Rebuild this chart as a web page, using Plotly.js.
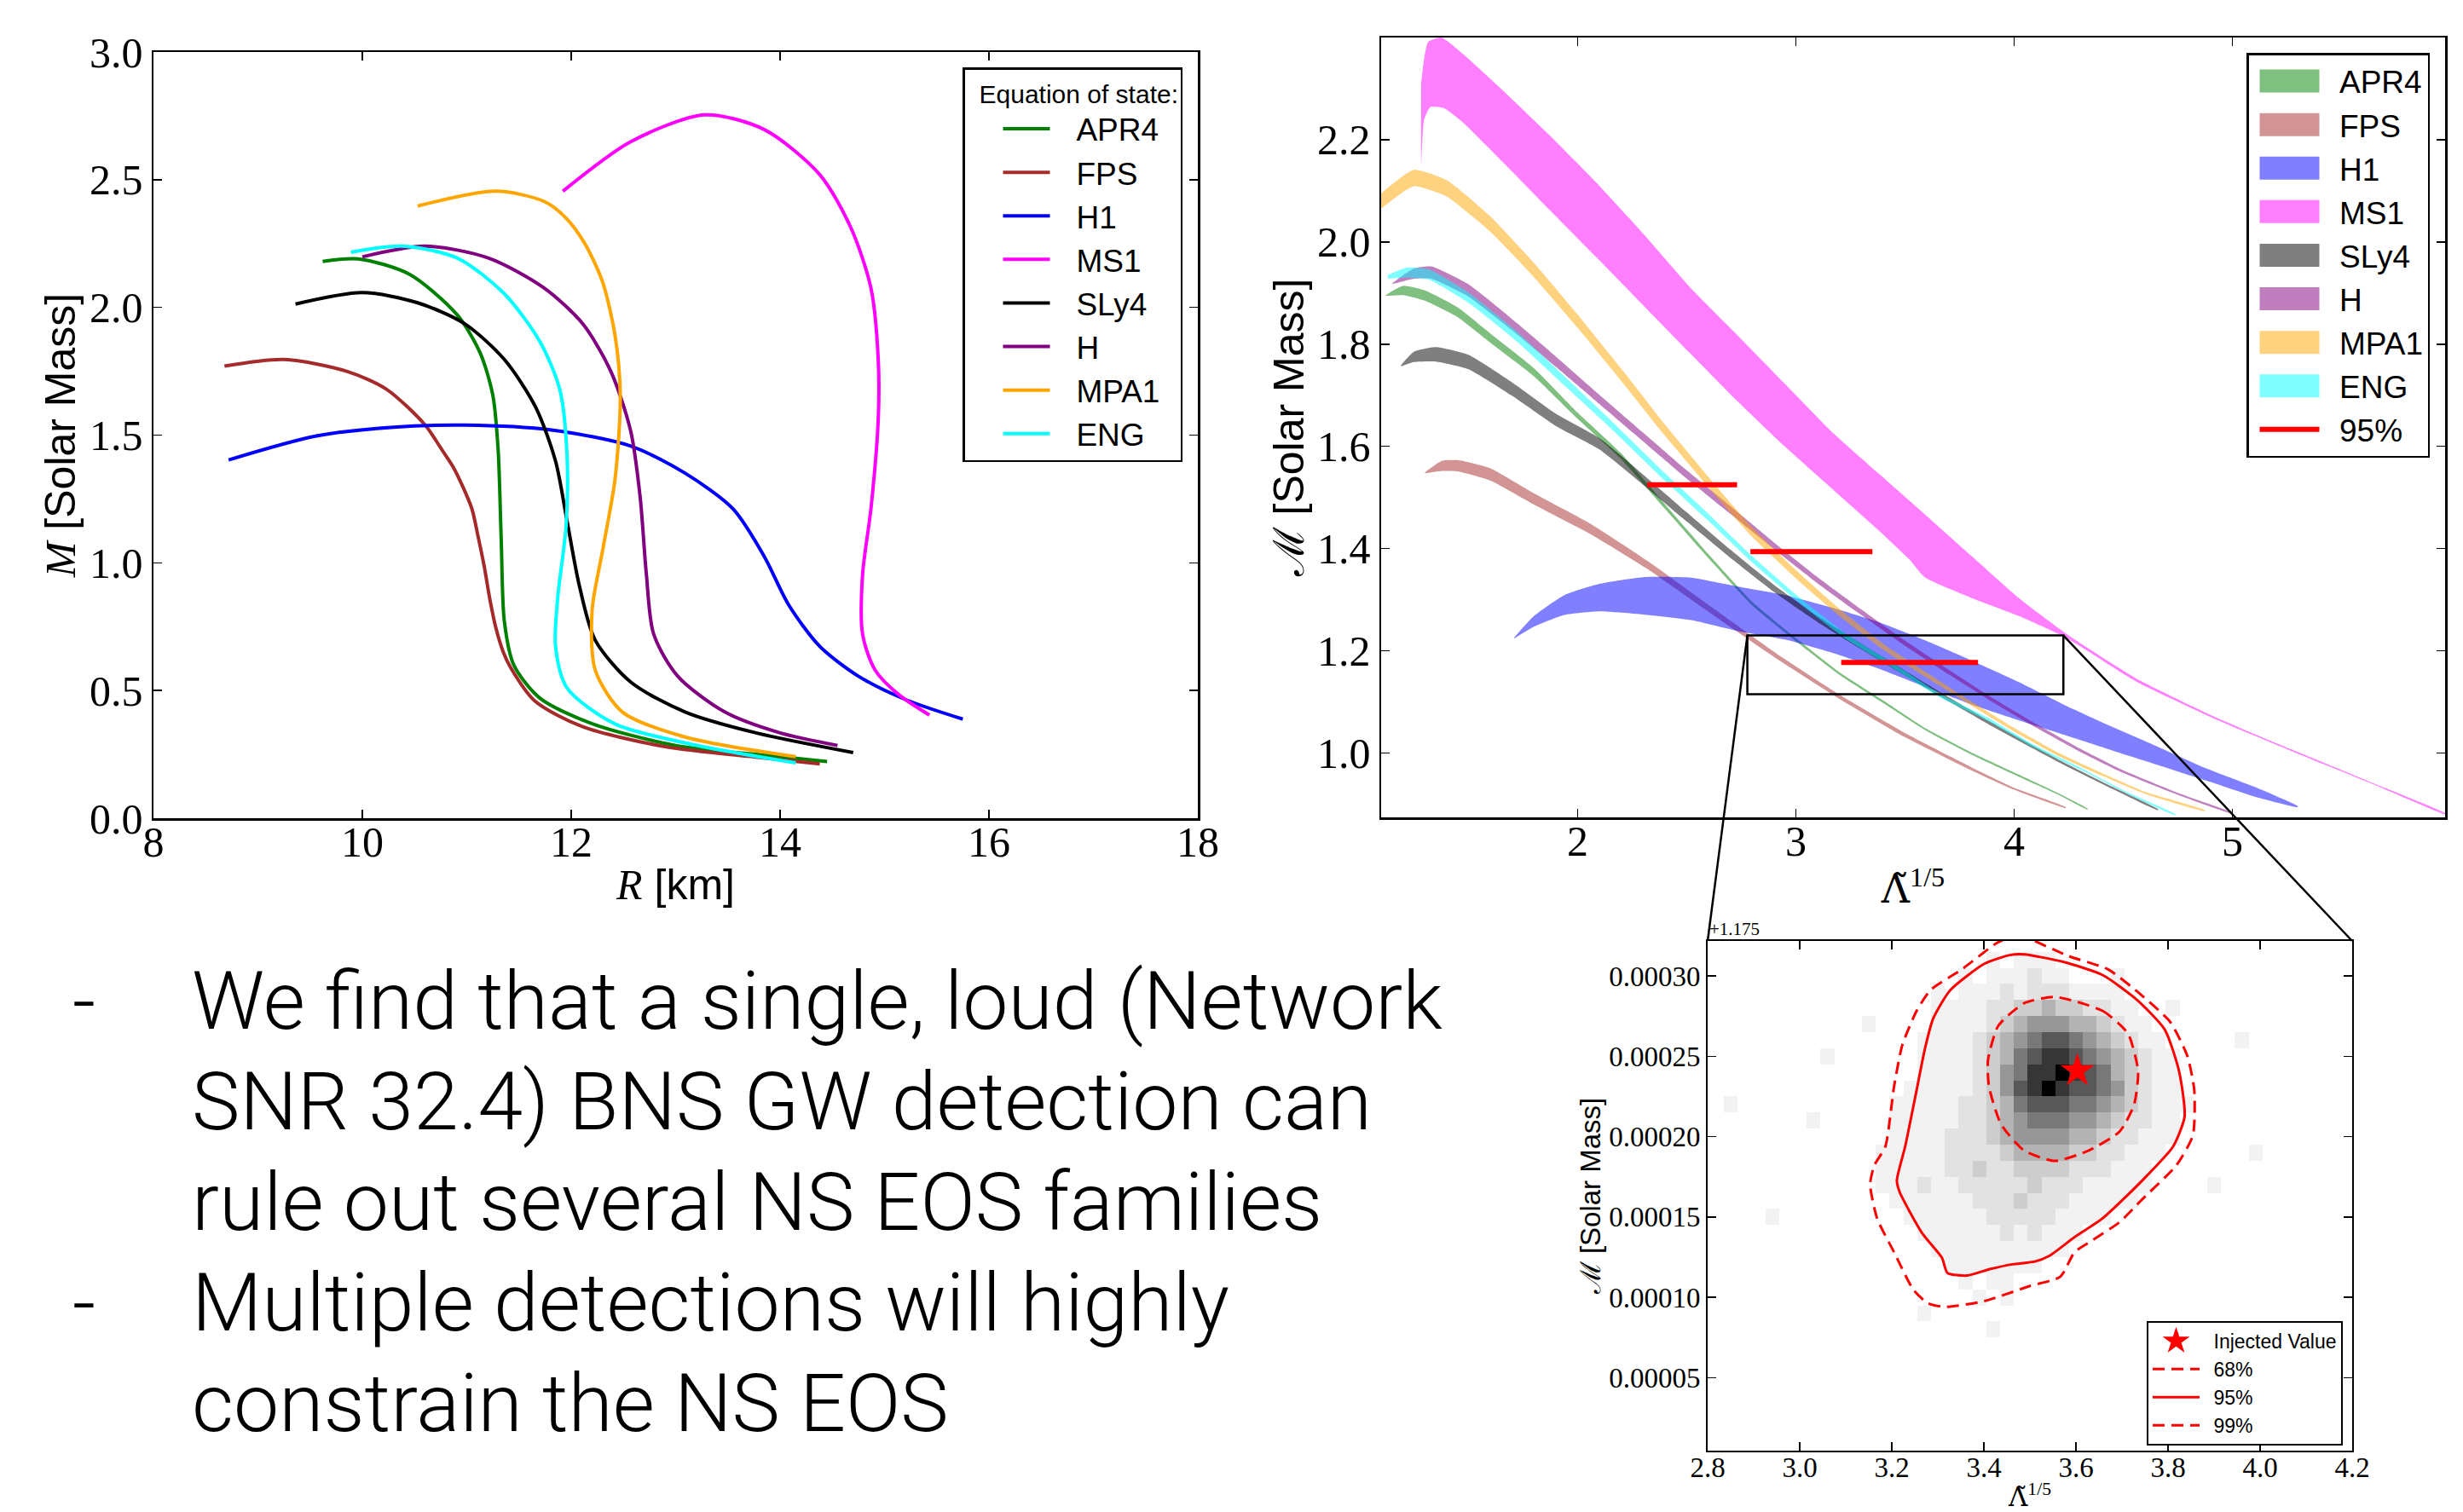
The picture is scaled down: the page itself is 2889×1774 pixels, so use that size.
<!DOCTYPE html>
<html><head><meta charset="utf-8">
<script src="https://cdn.plot.ly/plotly-3.0.1.min.js"></script>
<style>html,body{margin:0;padding:0;background:#fff;}#chart{width:2889px;height:1774px;}</style>
</head><body><div id="chart"></div>
<script>
// ---------------- Left panel: mass-radius curves ----------------
const eosNames = ['APR4','FPS','H1','MS1','SLy4','H','MPA1','ENG'];
const eosLineColors = ['#008000','#a52a2a','#0000ff','#ff00ff','#000000','#800080','#ffa500','#00ffff'];
const eosFillColors = ['rgba(0,128,0,0.5)','rgba(165,42,42,0.5)','rgba(0,0,255,0.5)','rgba(255,0,255,0.5)','rgba(0,0,0,0.5)','rgba(128,0,128,0.5)','rgba(255,165,0,0.5)','rgba(0,255,255,0.5)'];

const apr4R = [9.62, 9.96, 10.45, 10.91, 11.13, 11.25, 11.30, 11.33, 11.36, 11.45, 11.70, 12.20, 13.00, 13.90, 14.45];
const apr4M = [2.180, 2.190, 2.130, 1.970, 1.820, 1.655, 1.445, 1.090, 0.770, 0.600, 0.470, 0.370, 0.285, 0.245, 0.222];
const fpsR = [8.68, 9.25, 9.85, 10.23, 10.60, 10.75, 10.87, 10.96, 11.05, 11.11, 11.17, 11.22, 11.28, 11.35, 11.42, 11.65, 12.10, 12.90, 13.80, 14.38];
const fpsM = [1.770, 1.796, 1.750, 1.680, 1.540, 1.450, 1.375, 1.300, 1.210, 1.100, 0.980, 0.860, 0.743, 0.650, 0.590, 0.460, 0.360, 0.280, 0.238, 0.213];
const h1R = [8.72, 9.55, 10.30, 10.98, 11.81, 12.57, 13.09, 13.55, 13.85, 14.08, 14.38, 14.75, 15.21, 15.75];
const h1M = [1.403, 1.496, 1.531, 1.539, 1.520, 1.457, 1.351, 1.211, 1.024, 0.837, 0.673, 0.556, 0.463, 0.388];
const ms1R = [11.92, 12.57, 13.28, 13.85, 14.38, 14.68, 14.87, 14.94, 14.94, 14.87, 14.79, 14.79, 14.91, 15.13, 15.43];
const ms1M = [2.455, 2.649, 2.754, 2.696, 2.520, 2.310, 2.076, 1.796, 1.562, 1.211, 0.954, 0.720, 0.580, 0.486, 0.404];
const sly4R = [9.36, 10.00, 10.53, 10.98, 11.36, 11.66, 11.85, 11.96, 12.08, 12.23, 12.57, 13.09, 13.77, 14.70];
const sly4M = [2.013, 2.058, 2.018, 1.936, 1.796, 1.609, 1.398, 1.164, 0.907, 0.697, 0.533, 0.416, 0.334, 0.257];
const hR = [10.00, 10.60, 11.21, 11.74, 12.11, 12.38, 12.57, 12.66, 12.72, 12.79, 13.02, 13.47, 14.00, 14.55];
const hM = [2.198, 2.240, 2.193, 2.076, 1.936, 1.749, 1.515, 1.258, 0.954, 0.720, 0.556, 0.416, 0.334, 0.285];
const mpa1R = [10.53, 11.28, 11.74, 11.95, 12.13, 12.30, 12.42, 12.47, 12.42, 12.30, 12.20, 12.23, 12.49, 13.09, 14.15];
const mpa1M = [2.397, 2.455, 2.415, 2.350, 2.250, 2.100, 1.889, 1.655, 1.328, 1.047, 0.814, 0.580, 0.416, 0.318, 0.241];
const engR = [9.89, 10.38, 10.91, 11.36, 11.70, 11.89, 11.96, 11.95, 11.87, 11.85, 11.96, 12.42, 13.17, 14.15];
const engM = [2.216, 2.240, 2.193, 2.053, 1.866, 1.679, 1.422, 1.141, 0.860, 0.673, 0.510, 0.369, 0.288, 0.217];

// ---------------- Right panel: chirp mass vs tidal deformability bands ----------------
const apr4Lam = [1.12, 1.20, 1.30, 1.45, 1.60, 1.80, 2.00, 2.20, 2.40, 2.60, 2.80, 3.00, 3.20, 3.40, 3.60, 3.80, 4.00, 4.20, 4.337];
const apr4Up  = [1.895, 1.914, 1.905, 1.872, 1.821, 1.753, 1.666, 1.586, 1.487, 1.389, 1.296, 1.225, 1.158, 1.103, 1.047, 1.002, 0.962, 0.922, 0.891];
const apr4Lo  = [1.895, 1.896, 1.885, 1.853, 1.803, 1.737, 1.654, 1.575, 1.478, 1.381, 1.289, 1.219, 1.153, 1.098, 1.043, 0.998, 0.958, 0.919, 0.889];

const fpsLam = [1.30, 1.38, 1.45, 1.60, 1.80, 2.065, 2.32, 2.58, 2.90, 3.20, 3.50, 3.80, 4.00, 4.237];
const fpsUp  = [1.548, 1.572, 1.573, 1.557, 1.508, 1.447, 1.376, 1.296, 1.198, 1.114, 1.039, 0.973, 0.932, 0.894];
const fpsLo  = [1.548, 1.552, 1.551, 1.533, 1.486, 1.427, 1.360, 1.282, 1.188, 1.106, 1.031, 0.967, 0.928, 0.892];

const h1Lam = [1.71, 1.80, 1.94, 2.10, 2.30, 2.52, 2.73, 2.95, 3.16, 3.38, 3.59, 3.81, 4.02, 4.24, 4.45, 4.67, 4.88, 5.10, 5.30];
const h1Up  = [1.226, 1.268, 1.309, 1.331, 1.344, 1.343, 1.326, 1.309, 1.285, 1.256, 1.221, 1.180, 1.139, 1.092, 1.051, 1.010, 0.970, 0.934, 0.896];
const h1Lo  = [1.224, 1.247, 1.270, 1.277, 1.271, 1.260, 1.239, 1.222, 1.197, 1.165, 1.130, 1.094, 1.064, 1.034, 1.005, 0.975, 0.946, 0.915, 0.894];

const ms1LamUp = [1.283, 1.315, 1.376, 1.477, 1.656, 1.871, 2.086, 2.301, 2.516, 2.731, 2.946, 3.161, 3.376, 3.591, 3.806, 4.022, 4.237, 4.559, 4.918, 5.276, 5.634, 5.975];
const ms1Up    = [2.309, 2.391, 2.400, 2.367, 2.297, 2.209, 2.116, 2.016, 1.911, 1.818, 1.724, 1.630, 1.548, 1.467, 1.385, 1.303, 1.234, 1.146, 1.071, 1.006, 0.943, 0.882];
const ms1LamLo = [1.283, 1.297, 1.326, 1.387, 1.477, 1.656, 1.871, 2.086, 2.301, 2.516, 2.731, 2.946, 3.161, 3.376, 3.520, 3.591, 3.806, 4.022, 4.237, 4.559, 4.918, 5.276, 5.634, 5.975];
const ms1Lo    = [2.145, 2.239, 2.264, 2.262, 2.233, 2.157, 2.063, 1.970, 1.876, 1.782, 1.689, 1.601, 1.519, 1.437, 1.379, 1.344, 1.303, 1.268, 1.226, 1.140, 1.067, 1.003, 0.941, 0.880];

const sly4Lam = [1.19, 1.25, 1.35, 1.50, 1.70, 1.90, 2.10, 2.30, 2.50, 2.70, 2.90, 3.10, 3.30, 3.60, 3.90, 4.20, 4.45, 4.66];
const sly4Up  = [1.757, 1.785, 1.794, 1.779, 1.725, 1.664, 1.616, 1.545, 1.471, 1.398, 1.329, 1.268, 1.214, 1.135, 1.059, 0.988, 0.934, 0.890];
const sly4Lo  = [1.757, 1.765, 1.766, 1.751, 1.699, 1.640, 1.594, 1.525, 1.453, 1.382, 1.315, 1.256, 1.203, 1.126, 1.052, 0.983, 0.930, 0.888];

const hLam = [1.15, 1.25, 1.33, 1.50, 1.70, 1.90, 2.10, 2.30, 2.50, 2.70, 2.90, 3.10, 3.30, 3.50, 3.70, 3.90, 4.10, 4.30, 4.50, 4.75, 5.00];
const hUp  = [1.918, 1.948, 1.952, 1.917, 1.849, 1.776, 1.701, 1.627, 1.553, 1.483, 1.412, 1.344, 1.281, 1.220, 1.163, 1.108, 1.057, 1.009, 0.966, 0.922, 0.883];
const hLo  = [1.918, 1.928, 1.928, 1.893, 1.827, 1.756, 1.683, 1.610, 1.537, 1.468, 1.399, 1.332, 1.270, 1.210, 1.154, 1.100, 1.050, 1.003, 0.961, 0.918, 0.881];

const mpa1Lam = [1.10, 1.25, 1.40, 1.60, 1.80, 2.00, 2.20, 2.40, 2.60, 2.80, 3.00, 3.20, 3.40, 3.60, 3.80, 4.00, 4.20, 4.40, 4.60, 4.875];
const mpa1Up  = [2.095, 2.141, 2.121, 2.050, 1.959, 1.858, 1.752, 1.643, 1.540, 1.441, 1.358, 1.282, 1.214, 1.157, 1.102, 1.049, 1.001, 0.961, 0.924, 0.888];
const mpa1Lo  = [2.065, 2.109, 2.089, 2.020, 1.931, 1.832, 1.728, 1.621, 1.520, 1.423, 1.342, 1.268, 1.202, 1.147, 1.094, 1.042, 0.995, 0.956, 0.920, 0.886];

const engLam = [1.13, 1.22, 1.32, 1.50, 1.72, 1.94, 2.16, 2.37, 2.59, 2.80, 3.02, 3.23, 3.45, 3.66, 3.88, 4.09, 4.31, 4.52, 4.74];
const engUp  = [1.935, 1.950, 1.946, 1.901, 1.825, 1.737, 1.648, 1.560, 1.472, 1.385, 1.303, 1.233, 1.174, 1.116, 1.069, 1.016, 0.970, 0.923, 0.880];
const engLo  = [1.928, 1.930, 1.926, 1.881, 1.806, 1.719, 1.632, 1.545, 1.458, 1.373, 1.292, 1.223, 1.165, 1.109, 1.063, 1.011, 0.966, 0.920, 0.878];

// 95% chirp-mass intervals
const ci95LamLo = [2.319, 2.792, 3.208];
const ci95LamHi = [2.731, 3.351, 3.835];
const ci95M     = [1.525, 1.394, 1.177];

// zoom box (right panel data coords)
const zoomBoxLam = [2.778, 4.226];
const zoomBoxM   = [1.115, 1.230];

// ---------------- Inset: posterior (chirp mass offset from 1.175) ----------------
const insetOffsetLabel = '+1.175';
const histLam0 = 2.85, histDLam = 0.03, histM0 = 0.00003, histDM = 0.00001; // bin grid
// rows from top (M = 0.00031) down to bottom (M = 0.00003); columns from 2.85 to 3.99; digits = darkness 0..9
const histRows = [
 '00000|00000000000|00010111000|00000000000|00',
 '00000|00000000000|01011121100|01000000000|00',
 '00000|00000000001|01112122211|11000000000|00',
 '00000|00000000001|11122334332|21100100000|00',
 '00000|00000100001|11123455544|32110000000|00',
 '00000|00000000011|11234567765|43211000001|00',
 '00000|00100000011|11234678876|54321100000|00',
 '00000|00000000011|11235688987|64321100000|00',
 '00000|00000000111|11235789877|65321100000|00',
 '10000|00000001111|12234677766|54321110000|00',
 '00000|01000001111|12234566655|43221100000|00',
 '00000|00000001111|22234555544|32211100000|00',
 '00000|00000011111|22223444433|22111000000|10',
 '00000|00000011111|22322333322|21110000000|00',
 '00000|00000011121|12222232221|11110000100|00',
 '00000|00000001111|11222322211|11100000000|00',
 '00010|00000000111|11122222111|10000000000|00',
 '00000|00000000011|11112121110|00000000000|00',
 '00000|00000000001|11111111100|00000000000|00',
 '00000|00000000000|11111110000|00000000000|00',
 '00000|00000000000|01011000000|00000000000|00',
 '00000|00000000000|00101000000|00000000000|00',
 '00000|00000000010|00000000000|00000000000|00',
 '00000|00000000000|00010000000|00000000000|00',
 '00000|00000000000|00000000000|00000000000|00',
 '00000|00000000000|00000000000|00000000000|00',
 '00000|00000000000|00000000000|00000000000|00',
 '00000|00000000000|00000000000|00000000000|00',
 '00000|00000000000|00000000000|00000000000|00'
];
const c68Lam = [3.554, 3.658, 3.713, 3.735, 3.726, 3.695, 3.628, 3.554, 3.487, 3.437, 3.411, 3.409, 3.431, 3.487, 3.554];
const c68M   = [0.0002869, 0.0002782, 0.0002641, 0.0002407, 0.0002196, 0.0002032, 0.0001914, 0.0001849, 0.0001914, 0.0002079, 0.0002313, 0.0002477, 0.0002688, 0.0002829, 0.0002869];
const c95Lam = [3.487, 3.572, 3.658, 3.732, 3.793, 3.824, 3.836, 3.811, 3.744, 3.658, 3.597, 3.542, 3.511, 3.462, 3.413, 3.364, 3.321, 3.309, 3.266, 3.217, 3.211, 3.229, 3.254, 3.272, 3.290, 3.327, 3.401, 3.456, 3.487];
const c95M   = [0.0003134, 0.0003087, 0.0003005, 0.0002852, 0.0002665, 0.0002407, 0.0002125, 0.0001938, 0.0001727, 0.0001492, 0.0001375, 0.0001258, 0.0001223, 0.0001206, 0.0001176, 0.0001136, 0.0001152, 0.0001246, 0.0001399, 0.0001656, 0.0001727, 0.0001938, 0.0002290, 0.0002547, 0.0002735, 0.0002911, 0.0003075, 0.0003129, 0.0003134];
const c99Lam = [3.511, 3.585, 3.670, 3.744, 3.805, 3.842, 3.857, 3.854, 3.818, 3.744, 3.695, 3.634, 3.597, 3.566, 3.499, 3.401, 3.315, 3.278, 3.247, 3.205, 3.168, 3.153, 3.162, 3.186, 3.205, 3.223, 3.254, 3.284, 3.352, 3.425, 3.444];
const c99M   = [0.0003216, 0.0003122, 0.0003040, 0.0002876, 0.0002712, 0.0002501, 0.0002290, 0.0002008, 0.0001821, 0.0001610, 0.0001469, 0.0001352, 0.0001281, 0.0001129, 0.0001070, 0.0000977, 0.0000941, 0.0000965, 0.0001047, 0.0001281, 0.0001492, 0.0001703, 0.0001821, 0.0001938, 0.0002313, 0.0002571, 0.0002782, 0.0002911, 0.0003040, 0.0003199, 0.0003227];
const injectedLam = [3.603];
const injectedM = [0.000241];

// ---------------- Slide text ----------------
const bulletLines = ['We find that a single, loud (Network', 'SNR 32.4) BNS GW detection can', 'rule out several NS EOS families', 'Multiple detections will highly', 'constrain the NS EOS'];
const bulletDashLines = [0, 3];

// =============== build traces ===============
const traces = [];
const mrR = [apr4R, fpsR, h1R, ms1R, sly4R, hR, mpa1R, engR];
const mrM = [apr4M, fpsM, h1M, ms1M, sly4M, hM, mpa1M, engM];
eosNames.forEach((n, i) => {
  traces.push({type:'scatter', mode:'lines', x: mrR[i], y: mrM[i], name: '\u2002\u2009' + n, xaxis:'x', yaxis:'y', legend:'legend',
    line:{color: eosLineColors[i], width:4, shape:'spline', smoothing:0.8}, hoverinfo:'skip'});
});

const bandLamUp = [apr4Lam, fpsLam, h1Lam, ms1LamUp, sly4Lam, hLam, mpa1Lam, engLam];
const bandUp    = [apr4Up, fpsUp, h1Up, ms1Up, sly4Up, hUp, mpa1Up, engUp];
const bandLamLo = [apr4Lam, fpsLam, h1Lam, ms1LamLo, sly4Lam, hLam, mpa1Lam, engLam];
const bandLo    = [apr4Lo, fpsLo, h1Lo, ms1Lo, sly4Lo, hLo, mpa1Lo, engLo];
eosNames.forEach((n, i) => {
  const xs = bandLamUp[i].concat(bandLamLo[i].slice().reverse());
  const ys = bandUp[i].concat(bandLo[i].slice().reverse());
  traces.push({type:'scatter', mode:'lines', x: xs, y: ys, xaxis:'x2', yaxis:'y2', fill:'toself',
    fillcolor: eosFillColors[i], line:{width:0, shape:'spline', smoothing:0.5}, showlegend:false, hoverinfo:'skip'});
});
// legend entries for the bands
eosNames.forEach((n, i) => {
  traces.push({type:'scatter', mode:'lines', x:[null], y:[null], xaxis:'x2', yaxis:'y2', name:'\u2002' + n, legend:'legend2',
    line:{color: eosFillColors[i], width:10}});
});
const ciX = [], ciY = [];
ci95M.forEach((m, k) => { ciX.push(ci95LamLo[k], ci95LamHi[k], null); ciY.push(m, m, null); });
traces.push({type:'scatter', mode:'lines', x: ciX, y: ciY, xaxis:'x2', yaxis:'y2', name:'\u200295%', legend:'legend2',
  line:{color:'#ff0000', width:6}, hoverinfo:'skip'});

// inset heatmap
const histZ = histRows.map(r => r.replace(/\|/g,'').split('').map(Number)).reverse();
traces.push({type:'heatmap', z: histZ, x0: histLam0, dx: histDLam, y0: histM0, dy: histDM, xaxis:'x3', yaxis:'y3',
  zmin:0, zmax:9, showscale:false, hoverinfo:'skip', zsmooth:false,
  colorscale:[[0,'#ffffff'],[0.111,'#f2f2f2'],[0.222,'#e2e2e2'],[0.333,'#cdcdcd'],[0.444,'#b3b3b3'],[0.556,'#979797'],[0.667,'#787878'],[0.778,'#585858'],[0.889,'#363636'],[1,'#000000']]});
traces.push({type:'scatter', mode:'markers', x: injectedLam, y: injectedM, xaxis:'x3', yaxis:'y3', name:'\u2002Injected Value', legend:'legend3',
  marker:{symbol:'star', size:30, color:'#ff0000'}, hoverinfo:'skip'});
traces.push({type:'scatter', mode:'lines', x: c68Lam, y: c68M, xaxis:'x3', yaxis:'y3', name:'\u200268%', legend:'legend3',
  line:{color:'#ff0000', width:3, dash:'14px,8px', shape:'spline', smoothing:0.6}, hoverinfo:'skip'});
traces.push({type:'scatter', mode:'lines', x: c95Lam, y: c95M, xaxis:'x3', yaxis:'y3', name:'\u200295%', legend:'legend3',
  line:{color:'#ff0000', width:3, shape:'spline', smoothing:0.6}, hoverinfo:'skip'});
traces.push({type:'scatter', mode:'lines', x: c99Lam, y: c99M, xaxis:'x3', yaxis:'y3', name:'\u200299%', legend:'legend3',
  line:{color:'#ff0000', width:3, dash:'14px,8px', shape:'spline', smoothing:0.6}, hoverinfo:'skip'});

// =============== layout ===============
const W = 2889, H = 1774;
function ax(extra) {
  return Object.assign({showline:true, linecolor:'black', linewidth:2.5, mirror:'ticks', ticks:'inside', ticklen:10,
    tickwidth:1.5, tickcolor:'black', showgrid:false, zeroline:false,
    tickfont:{family:'Liberation Serif', size:50, color:'black'}}, extra);
}
const sansTitle = {family:'Liberation Sans', size:50, color:'black'};
const serif = "font-family:'Liberation Serif'";
const lamTitle = `<span style="font-family:'DejaVu Serif'">Λ̃</span><sup>1/5</sup>`;
const xaxis = ax({domain:[180/W, 1405/W], anchor:'y', range:[8,18], dtick:2, tick0:8, ticklabelstandoff:-18,
  title:{text:`<span style="${serif};font-style:italic">R</span> [km]`, font:sansTitle, standoff:6}});
const yaxis = ax({domain:[1-960/H, 1-61/H], anchor:'x', range:[0,3], dtick:0.5, tick0:0, tickformat:'.1f',
  title:{text:`<span style="${serif};font-style:italic">M</span> [Solar Mass]`, font:sansTitle, standoff:1}});
const xaxis2 = ax({domain:[1620/W, 2868/W], anchor:'y2', range:[1.1,5.975], tickvals:[2,3,4,5], ticklabelstandoff:-18,
  title:{text: lamTitle, font:{family:'Liberation Serif', size:46, color:'black'}, standoff:14}});
const yaxis2 = ax({domain:[1-959/H, 1-44/H], anchor:'x2', range:[0.874,2.4], tickvals:[1.0,1.2,1.4,1.6,1.8,2.0,2.2], tickformat:'.1f',
  title:{text:`<span style="${serif}">ℳ</span> [Solar Mass]`, font:sansTitle, standoff:0}});
const xaxis3 = ax({domain:[2003/W, 2759/W], anchor:'y3', range:[2.8,4.2], dtick:0.2, tick0:2.8, tickformat:'.1f', ticklabelstandoff:-11,
  tickfont:{family:'Liberation Serif', size:33, color:'black'}, linewidth:2,
  title:{text: lamTitle, font:{family:'Liberation Serif', size:31, color:'black'}, standoff:24}});
const yaxis3 = ax({domain:[1-1702/H, 1-1104/H], anchor:'x3', range:[0.0000047,0.0003217],
  tickvals:[0.00005,0.0001,0.00015,0.0002,0.00025,0.0003], tickformat:'.5f', linewidth:2,
  tickfont:{family:'Liberation Serif', size:33, color:'black'},
  title:{text:`<span style="${serif}">ℳ</span> [Solar Mass]`, font:{family:'Liberation Sans', size:33, color:'black'}, standoff:0}});

function px(a, v) { return a.domain[0] + (v - a.range[0]) / (a.range[1] - a.range[0]) * (a.domain[1] - a.domain[0]); }
const boxTopY = px(yaxis2, zoomBoxM[1]);
const shapes = [
  {type:'rect', xref:'x2', yref:'y2', x0: zoomBoxLam[0], x1: zoomBoxLam[1], y0: zoomBoxM[0], y1: zoomBoxM[1], line:{color:'black', width:2.5}},
  {type:'line', xref:'paper', yref:'paper', x0: px(xaxis2, zoomBoxLam[0]), y0: boxTopY, x1: xaxis3.domain[0], y1: yaxis3.domain[1], line:{color:'black', width:2.5}},
  {type:'line', xref:'paper', yref:'paper', x0: px(xaxis2, zoomBoxLam[1]), y0: boxTopY, x1: xaxis3.domain[1], y1: yaxis3.domain[1], line:{color:'black', width:2.5}}
];

const annotations = [
  {xref:'paper', yref:'paper', x: xaxis3.domain[0], y: yaxis3.domain[1], xanchor:'left', yanchor:'bottom', showarrow:false,
   text: insetOffsetLabel, font:{family:'Liberation Serif', size:21, color:'black'}}
];
const textFont = {family:'Roboto', size:95, color:'black', weight:300};
const lineY0 = 1 - 1174/H, lineStep = 118/H;
bulletLines.forEach((t, i) => {
  annotations.push({xref:'paper', yref:'paper', x: 223/W, y: lineY0 - i*lineStep, xanchor:'left', yanchor:'middle',
    showarrow:false, text:t, font:textFont});
});
bulletDashLines.forEach(i => {
  annotations.push({xref:'paper', yref:'paper', x: 83/W, y: lineY0 - i*lineStep, xanchor:'left', yanchor:'middle',
    showarrow:false, text:'-', font:textFont});
});

const legBase = {bgcolor:'white', bordercolor:'black', borderwidth:2.5, xanchor:'right', yanchor:'top', tracegroupgap:0, traceorder:'normal'};
const layout = {
  width:W, height:H, margin:{l:0, r:0, t:0, b:0}, paper_bgcolor:'white', plot_bgcolor:'white',
  font:{family:'Liberation Sans', color:'black'}, showlegend:true,
  xaxis, yaxis, xaxis2, yaxis2, xaxis3, yaxis3, shapes, annotations,
  legend: Object.assign({}, legBase, {x:1387/W, y:1-79/H, font:{family:'Liberation Sans', size:37, color:'black'},
    title:{text:'\u2002Equation of state:', font:{family:'Liberation Sans', size:30, color:'black'}}, itemwidth:55, indentation:40}),
  legend2: Object.assign({}, legBase, {x:2850/W, y:1-62/H, font:{family:'Liberation Sans', size:37, color:'black'}, itemwidth:70, indentation:8}),
  legend3: Object.assign({}, legBase, {x:2748/W, y:1-1550/H, borderwidth:2, font:{family:'Liberation Sans', size:23, color:'black'}, itemwidth:55})
};
Plotly.newPlot('chart', traces, layout, {displayModeBar:false, staticPlot:true}).then(() => {
  // thicker colour swatches in the band legend, as in the reference
  const lines = document.querySelectorAll('g.legend2 g.traces');
  lines.forEach((g, k) => {
    if (k < eosNames.length) g.querySelectorAll('path.js-line').forEach(p => { p.style.strokeWidth = '27px'; });
  });
  const stars = document.querySelectorAll('g.legend3 path.scatterpts');
  stars.forEach(p => { const t = p.getAttribute('transform') || ''; p.setAttribute('transform', t + ' scale(1.5)'); });
});
</script>
</body></html>
